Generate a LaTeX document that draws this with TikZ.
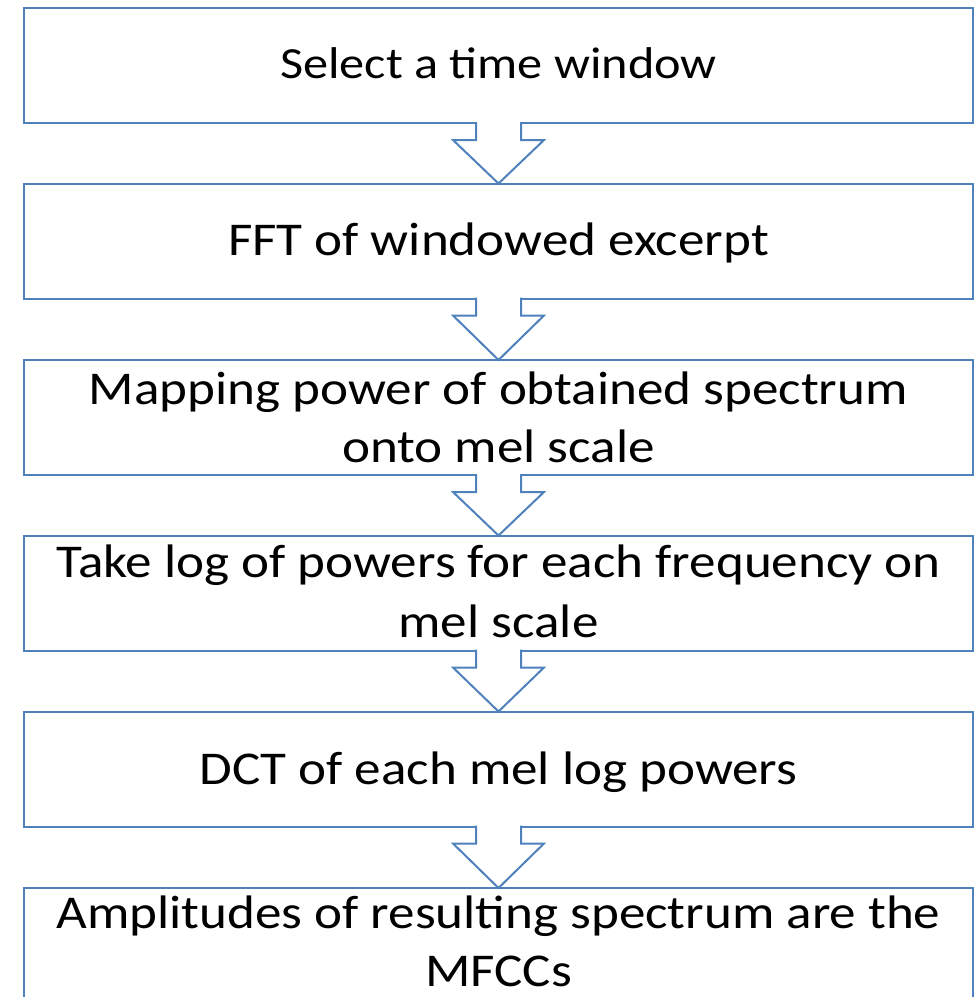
\documentclass[tikz,border=0pt]{standalone}
\usepackage{fontspec}
\setmainfont{Carlito}[FakeStretch=1.13]
\usetikzlibrary{calc}
\definecolor{flowblue}{RGB}{79,129,189}
\tikzset{
  stepbox/.style={draw=flowblue, line width=2pt, fill=white, rectangle,
    minimum width=949pt, minimum height=115pt, inner sep=0pt, outer sep=0pt},
  steptext/.style={anchor=base, inner sep=0pt, font=\fontsize{47}{56}\selectfont, text=black},
  blockarrow/.style={draw=flowblue, line width=2pt, fill=white, line join=miter},
}
\begin{document}
\begin{tikzpicture}[x=1pt, y=-1pt]
\useasboundingbox (0,0) rectangle (974,997);
\clip (0,0) rectangle (974,997);

% process steps (top edges at 8, 183.5, 360, 535.5, 711.5, 888)
\node[stepbox] (b1) at (498.5, 65.5) {};
\node[stepbox] (b2) at (498.5, 241) {};
\node[stepbox] (b3) at (498.5, 417.5) {};
\node[stepbox] (b4) at (498.5, 593) {};
\node[stepbox] (b5) at (498.5, 769) {};
\node[stepbox] (b6) at (498.5, 945.5) {};

% block arrows between consecutive steps
\foreach \a/\b in {b1/b2, b2/b3, b3/b4, b4/b5, b5/b6}{
  \draw[blockarrow]
    ($(\a.south)+(-22.5,-1)$) -- ($(\a.south)+(-22.5,17)$) --
    ($(\a.south)+(-45.5,17)$) -- (\b.north) --
    ($(\a.south)+(45.5,17)$) -- ($(\a.south)+(22.5,17)$) --
    ($(\a.south)+(22.5,-1)$);
}

% step labels
\node[steptext, font=\fontsize{44.5}{53}\selectfont] (t1) at ($(b1.center)+(0,13)$) {Select a time window};
\node[steptext] (t2) at ($(b2.center)+(0,14)$) {FFT of windowed excerpt};
\node[steptext] (t3a) at ($(b3.center)+(0,-13)$) {Mapping power of obtained spectrum};
\node[steptext] (t3b) at ($(b3.center)+(0,45)$) {onto mel scale};
\node[steptext] (t4a) at ($(b4.center)+(0,-16)$) {Take log of powers for each frequency on};
\node[steptext] (t4b) at ($(b4.center)+(0,44)$) {mel scale};
\node[steptext] (t5) at ($(b5.center)+(0,15)$) {DCT of each mel log powers};
\node[steptext] (t6a) at ($(b6.center)+(0,-17)$) {Amplitudes of resulting spectrum are the};
\node[steptext] (t6b) at ($(b6.center)+(0,41)$) {MFCCs};
\end{tikzpicture}
\end{document}
